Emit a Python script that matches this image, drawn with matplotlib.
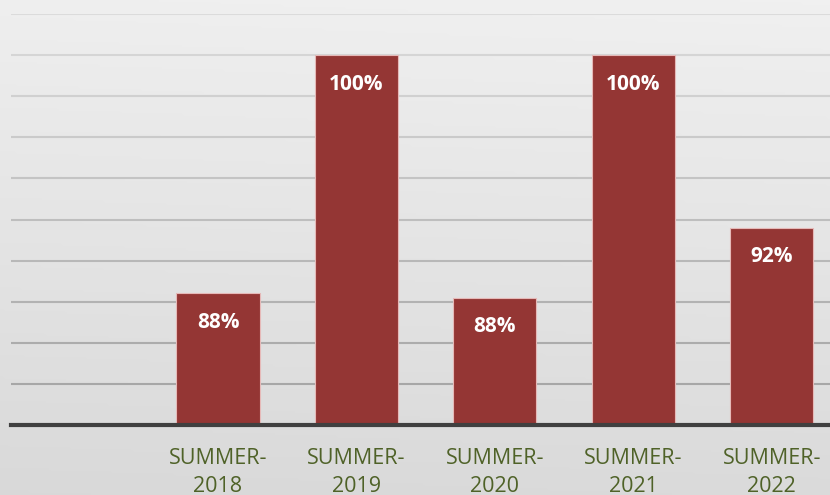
import matplotlib
matplotlib.use("Agg")
import matplotlib.pyplot as plt
import numpy as np
from matplotlib.colors import LinearSegmentedColormap

categories = ["SUMMER-\n2018", "SUMMER-\n2019", "SUMMER-\n2020", "SUMMER-\n2021", "SUMMER-\n2022"]
values = [88.4, 100.0, 88.2, 100.0, 91.6]
labels = ["88%", "100%", "88%", "100%", "92%"]
y_ticks = [82, 84, 86, 88, 90, 92, 94, 96, 98, 100, 102]

W, H = 830, 495
fig = plt.figure(figsize=(W / 100, H / 100), dpi=100)

# background gradient
bg = fig.add_axes([0, 0, 1, 1], zorder=0)
yy, xx = np.mgrid[0:1:200j, 0:1:200j]
grad = 0.75 * yy + 0.15 * (1 - xx) + 0.1 * (xx)
cmap = LinearSegmentedColormap.from_list("bg", ["#f3f3f3", "#d6d6d6"])
bg.imshow(grad, cmap=cmap, aspect="auto", extent=[0, 1, 0, 1], origin="upper",
          vmin=0, vmax=1)
bg.axis("off")

ax = fig.add_axes([11 / W, 1 - 425 / H, 1 - 11 / W, (425 - 14) / H], zorder=1)
ax.patch.set_alpha(0)

x = np.arange(1, len(categories) + 1)
bars = ax.bar(x, values, width=0.6, color="#943634", edgecolor="#e6b9b8",
              linewidth=0.8, zorder=3)

ax.set_ylim(82, 102)
ax.set_xlim(-0.495, 5.42)
ax.set_yticks(y_ticks)
ax.tick_params(axis="y", left=False, labelleft=False)
ax.tick_params(axis="x", bottom=False, pad=13)
ax.set_xticks(x)
ax.set_xticklabels(categories, fontsize=15.5, color="#4f6228", family="Open Sans",
                   linespacing=1.42)

ax.yaxis.grid(True, linewidth=1.5, zorder=1)
gl = ax.get_ygridlines()
n = len(gl)
for i, line in enumerate(gl):
    t = i / (n - 1)
    c = 0.63 + 0.23 * t
    line.set_color((c, c, c))

for s in ["top", "right", "left"]:
    ax.spines[s].set_visible(False)
ax.spines["bottom"].set_color("#404040")
ax.spines["bottom"].set_linewidth(3)
ax.spines["bottom"].set_zorder(4)

for xi, v, lab in zip(x, values, labels):
    ax.annotate(lab, (xi, v), xytext=(0, -21), textcoords="offset points",
                ha="center", va="center", color="white", fontsize=15,
                fontweight="bold", family="Open Sans", zorder=5)

fig.savefig("out.png", dpi=100)
